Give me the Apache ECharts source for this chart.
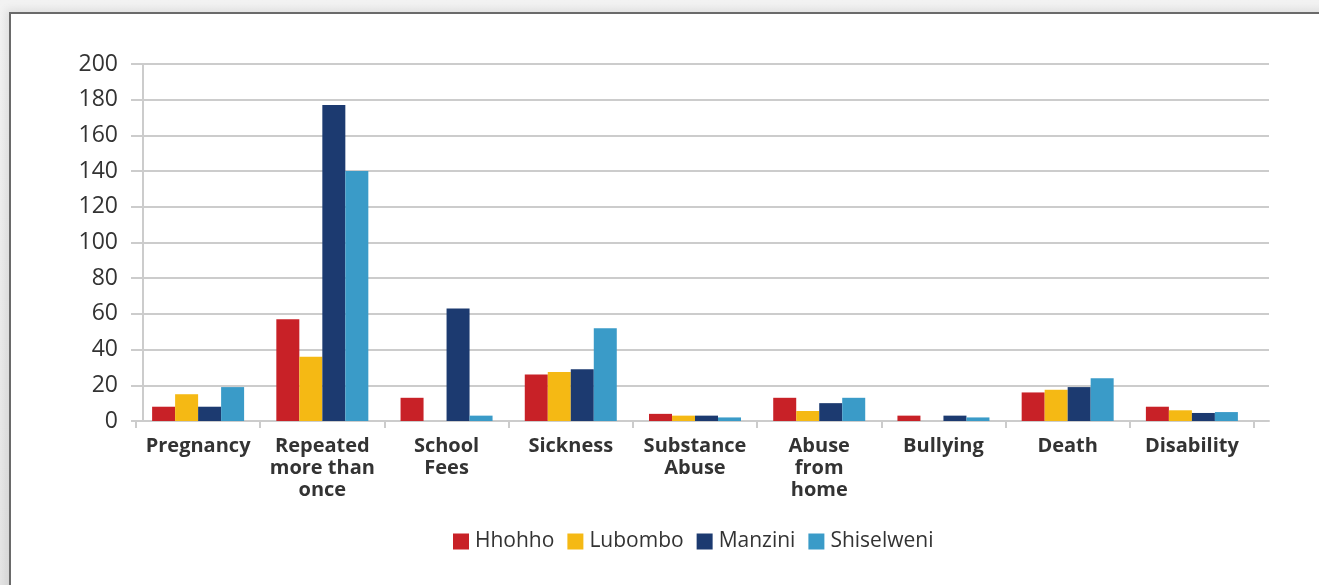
<!DOCTYPE html>
<html>
<head>
<meta charset="utf-8">
<script src="https://cdn.jsdelivr.net/npm/echarts@6/dist/echarts.min.js"></script>
<style>
  html, body { margin: 0; padding: 0; width: 1319px; height: 585px; overflow: hidden;
    background: linear-gradient(#f2f2f2, #e4e4e4); font-family: "Open Sans", sans-serif; }
  #frame { position: absolute; left: 9px; top: 12px; width: 1330px; height: 600px;
    background: #fff; border-left: 2px solid #6a6a6a; border-top: 2px solid #6a6a6a;
    box-shadow: -3px -3px 8px rgba(0,0,0,0.08); }
  #chart { position: absolute; left: 0; top: 0; width: 1319px; height: 585px; }
</style>
</head>
<body>
<div id="frame"></div>
<div id="chart"></div>
<script>
// Reasons for leaving school, by region
const categories = ['Pregnancy', 'Repeated\nmore than\nonce', 'School\nFees', 'Sickness',
  'Substance\nAbuse', 'Abuse\nfrom\nhome', 'Bullying', 'Death', 'Disability'];
const hhohho     = [8, 57, 13, 26, 4, 13, 3, 16, 8];
const lubombo    = [15, 36, 0, 27.5, 3, 5.6, 0, 17.5, 6];
const manzini    = [8, 177, 63, 29, 3, 10, 3, 19, 4.5];
const shiselweni = [19, 140, 3, 52, 2, 13, 2, 24, 5];
const yTicks = { min: 0, max: 200, interval: 20 };

const seriesDefs = [
  { name: 'Hhohho', data: hhohho, color: '#c82127' },
  { name: 'Lubombo', data: lubombo, color: '#f5b914' },
  { name: 'Manzini', data: manzini, color: '#1c3a70' },
  { name: 'Shiselweni', data: shiselweni, color: '#3a9bc8' }
];

const axisGrey = '#cccccc';
const chart = echarts.init(document.getElementById('chart'), null, { renderer: 'canvas' });
chart.setOption({
  animation: false,
  backgroundColor: 'transparent',
  textStyle: { fontFamily: 'Open Sans' },
  grid: [
    // bar area (category bands)
    { left: 136, right: 65, top: 64, bottom: 164 },
    // value axis, gridlines and baseline
    { left: 143, right: 50, top: 64, bottom: 164 }
  ],
  legend: {
    top: 526, left: 448, itemWidth: 16, itemHeight: 16, itemGap: 13,
    icon: 'rect',
    textStyle: { fontSize: 21, color: '#333', padding: [0, 0, 0, 1] },
    data: seriesDefs.map(s => s.name)
  },
  xAxis: [
    {
      gridIndex: 0, type: 'category', data: categories,
      axisLine: { show: false },
      axisTick: { show: true, length: 7, lineStyle: { color: axisGrey, width: 2 } },
      axisLabel: { fontSize: 20, fontWeight: 'bold', color: '#333', lineHeight: 22,
        margin: 14, interval: 0 }
    },
    {
      gridIndex: 1, type: 'category', data: categories,
      axisLine: { show: true, lineStyle: { color: axisGrey, width: 2 } },
      axisTick: { show: false }, axisLabel: { show: false }
    }
  ],
  yAxis: [
    {
      gridIndex: 0, type: 'value', min: yTicks.min, max: yTicks.max, interval: yTicks.interval,
      show: false, splitLine: { show: false }
    },
    {
      gridIndex: 1, type: 'value', min: yTicks.min, max: yTicks.max, interval: yTicks.interval,
      axisLine: { show: true, lineStyle: { color: axisGrey, width: 2 } },
      axisTick: { show: true, inside: false, length: 12, lineStyle: { color: axisGrey, width: 2 } },
      splitLine: { lineStyle: { color: axisGrey, width: 2 } },
      axisLabel: { fontSize: 23, color: '#333', margin: 25 }
    }
  ],
  series: seriesDefs.map(s => ({
    name: s.name, type: 'bar', data: s.data,
    xAxisIndex: 0, yAxisIndex: 0,
    itemStyle: { color: s.color },
    barWidth: 23, barGap: '0%'
  }))
});
</script>
</body>
</html>
